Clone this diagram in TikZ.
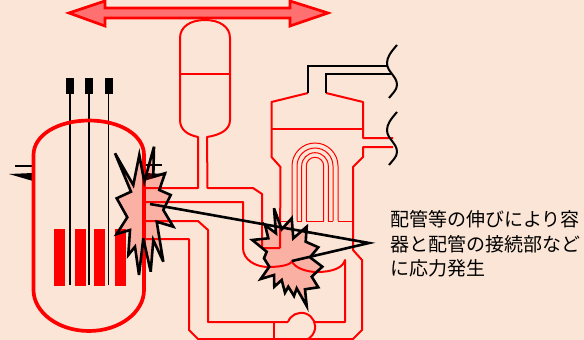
\documentclass[tikz,border=0pt]{standalone}
\usepackage{fontspec}
\newfontfamily\jpfont{Noto Sans CJK JP}
\definecolor{bgc}{HTML}{FBE5D6}
\definecolor{arrowfill}{HTML}{FF7070}
\tikzset{
  pipe/.style={draw=red,line width=2pt,line join=round},
  thinpipe/.style={draw=red,line width=1pt},
  wall/.style={draw=red,line width=3.7pt},
  blk/.style={draw=black,line width=1.9pt},
  burst/.style={fill=red,fill opacity=.23},
  burstline/.style={draw=black,line width=2.6pt,line join=miter,miter limit=6},
  fuel/.style={fill=red},
  rodcap/.style={fill=black},
  bigarrow/.style={draw=red,line width=2.7pt,fill=arrowfill,line join=miter}
}
\begin{document}
\begin{tikzpicture}[x=1pt,y=-1pt]
\useasboundingbox (0,0) rectangle (584,340);
\fill[bgc] (0,0) rectangle (584,340);
% double arrow
\path[bigarrow] (69,13) -- (105,1) -- (105,8) -- (290,8) -- (290,1) -- (328,13) -- (290,26) -- (290,18) -- (105,18) -- (105,26) -- cycle;
% fuel
\foreach \a/\b in {54/65,74.5/86,94/105,115/126}
  \fill[fuel] (\a,229) rectangle (\b,286);
% control rods
\foreach \x in {70,89,108.5}{
  \draw[blk] (\x,93) -- (\x,285);
  \fill[rodcap] (\x-4,78) rectangle (\x+4,94);
}
% side stubs
\draw[blk] (15,166) -- (33,166);
\fill[black] (9,174) -- (33,173) -- (33,181) -- cycle;
\draw[blk] (140,165) -- (162,165);
\fill[black] (144,173) -- (167,174) -- (144,181) -- cycle;
% vessel
\draw[wall] (33.5,155) .. controls (33.5,135) and (58,120.5) .. (89,120.5)
  .. controls (120,120.5) and (144,135) .. (144,155) -- (144,290)
  .. controls (144,312) and (120,331) .. (89,331)
  .. controls (58,331) and (33.5,312) .. (33.5,290) -- cycle;
% accumulator
\draw[pipe] (145,188) -- (198,188) -- (198,137) .. controls (188,135) and (180,130) .. (180,120)
  -- (180,38) .. controls (180,27) and (190,20) .. (205,20)
  .. controls (220,20) and (230,27) .. (230,38) -- (230,120)
  .. controls (230,130) and (220,135) .. (207,137) -- (207.5,188) -- (253,188) -- (262,194) -- (262,248) -- (280,248);
\draw[pipe] (180,74) -- (230,74);
% steam generator
\draw[pipe] (280,248) -- (280.5,167) -- (271.5,157) -- (271.5,102) -- (308,93);
\draw[pipe] (326,93) -- (363,102) -- (363,138) -- (393,138);
\draw[pipe] (393,147) -- (363,147) -- (363,157) -- (353,167) -- (353,250) -- (362,260) -- (362,330) -- (353,339) -- (198,339) -- (189,330) -- (189,239) -- (145,239);
\draw[pipe] (271.5,129) -- (363,129);
% U tubes
\foreach \r in {23,18,13.3,8.7}
  \draw[thinpipe] (315-\r,221) -- (315-\r,166) arc[start angle=180,end angle=360,radius=\r] -- (315+\r,221);
\foreach \a/\b in {280/292,297/302,306/324,328/333,338/353}
  \draw[thinpipe] (\a,221) -- (\b,221);
% lower piping
\draw[pipe] (145,202) -- (243,202) -- (243,248) .. controls (243,260) and (256,267) .. (268,267)
  .. controls (280,267) and (291,265) .. (292,261)
  .. controls (294,268) and (307,272) .. (317,272)
  .. controls (332,272) and (343,268) .. (345,260) -- (345,322) -- (315,322);
\draw[pipe] (145,221) -- (198,221) -- (208,230) -- (208,322) -- (288,322);
\draw[pipe] (274,322) -- (274,339);
\draw[pipe] (288,322) arc[start angle=200,end angle=450,radius=14];
% black steam lines
\draw[blk] (308,93) -- (308,66) -- (388,66);
\draw[blk] (326,93) -- (326,74) -- (391,74);
\draw[blk,line width=2pt] (397,45) .. controls (391,52) and (387,57) .. (387,63)
  .. controls (387,72) and (397,76) .. (397,85) .. controls (397,90) and (392,94) .. (389,98);
\draw[blk,line width=2pt] (397,112) .. controls (391,119) and (387,124) .. (387,130)
  .. controls (387,139) and (397,143) .. (397,152) .. controls (397,157) and (392,161) .. (389,165);
% bursts
\def\burstA{(115,153.3) -- (133.3,185) -- (139.3,155) -- (144.3,181.7) -- (154,146.7) -- (153.3,176.7) -- (165,173.3) -- (159.3,190) -- (170.7,195) -- (163.3,210) -- (173.3,226.7) -- (156.7,221.7) -- (163.3,261.7) -- (153.3,240) -- (150.7,271.7) -- (143.3,238.3) -- (139,275) -- (135,246.7) -- (128.3,255) -- (130,230) -- (116.7,234) -- (127.3,217.3) -- (116.7,198.3) -- (131,191.7) -- cycle}
\def\burstB{(274,208.3) -- (281.7,229.3) -- (291.7,218.3) -- (293.3,238.3) -- (306.7,226.7) -- (305.7,241.7) -- (318.3,247.3) -- (310,257.3) -- (322.3,266.7) -- (311.7,276.7) -- (318.3,287.3) -- (305,289.3) -- (306.7,306) -- (296.7,288.3) -- (294,296) -- (288.3,286.7) -- (285,292.7) -- (281.7,280) -- (274.3,286.7) -- (274,275) -- (260.7,279) -- (269.3,266.7) -- (264,258.3) -- (266.7,251.7) -- (252.3,240) -- (268.3,238.3) -- (265,225) -- (276,233.3) -- cycle}
\path[burst] \burstA;
\path[burst] \burstB;
\draw[burstline] \burstA;
\draw[burstline] \burstB;
% callout
\coordinate (ca) at (150,204);
\coordinate (cb) at (369,243);
\coordinate (cc) at (292,261);
\draw[draw=black,line width=2.6pt,line join=miter] (ca) -- (cb) -- (cc);
% label
\node[anchor=north west,inner sep=0pt,align=left,font=\jpfont\fontsize{19}{24.5}\selectfont] (label) at (390,210.5) {配管等の伸びにより容\\器と配管の接続部など\\に応力発生};
\end{tikzpicture}
\end{document}
